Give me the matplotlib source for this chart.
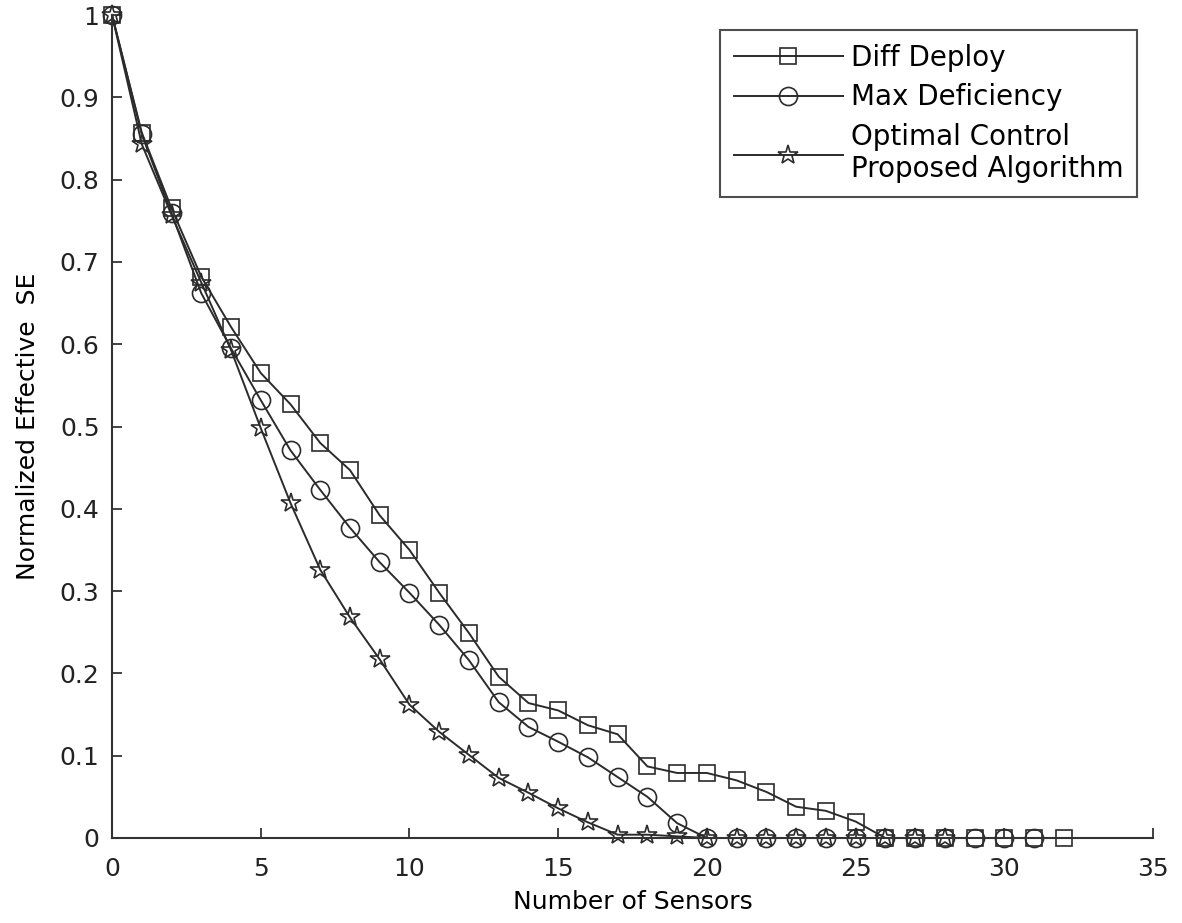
import matplotlib
matplotlib.use("Agg")
import matplotlib.pyplot as plt

plt.rcParams['font.family'] = ['DejaVu Sans']

diff_x = list(range(0, 33))
diff_y = [1.0, 0.857, 0.765, 0.682, 0.621, 0.565, 0.527, 0.480, 0.447, 0.392,
          0.350, 0.298, 0.249, 0.196, 0.164, 0.155, 0.137, 0.126, 0.087, 0.079,
          0.079, 0.070, 0.056, 0.038, 0.033, 0.020, 0, 0, 0, 0, 0, 0, 0]

maxdef_x = list(range(0, 32))
maxdef_y = [1.0, 0.855, 0.759, 0.662, 0.595, 0.532, 0.471, 0.423, 0.377, 0.335,
            0.298, 0.259, 0.216, 0.165, 0.135, 0.117, 0.098, 0.074, 0.050, 0.018,
            0, 0, 0, 0, 0, 0, 0, 0, 0, 0, 0, 0]

opt_x = list(range(0, 29))
opt_y = [1.0, 0.843, 0.757, 0.675, 0.593, 0.498, 0.407, 0.326, 0.268, 0.217,
         0.162, 0.129, 0.101, 0.073, 0.055, 0.036, 0.019, 0.004, 0.004, 0.002,
         0, 0, 0, 0, 0, 0, 0, 0, 0]

labels = ["Diff Deploy", "Max Deficiency", "Optimal Control\nProposed Algorithm"]
xticks = [0, 5, 10, 15, 20, 25, 30, 35]
yticks = [0, 0.1, 0.2, 0.3, 0.4, 0.5, 0.6, 0.7, 0.8, 0.9, 1.0]
ytick_labels = ["0", "0.1", "0.2", "0.3", "0.4", "0.5", "0.6", "0.7", "0.8", "0.9", "1"]

fig = plt.figure(figsize=(11.82, 9.23), dpi=100)
ax = fig.add_axes([0.0948, 0.0921, 0.8807, 0.8916])

lc = '#2b2b2b'
common = dict(color=lc, lw=1.4, mfc='none', mec=lc, mew=1.2, clip_on=False)
ax.plot(diff_x, diff_y, marker='s', ms=12, label=labels[0], **common)
ax.plot(maxdef_x, maxdef_y, marker='o', ms=13, label=labels[1], **common)
ax.plot(opt_x, opt_y, marker='*', ms=15, label=labels[2], **common)

ax.set_xlim(0, 35)
ax.set_ylim(0, 1)
ax.set_xticks(xticks)
ax.set_yticks(yticks)
ax.set_yticklabels(ytick_labels)
ax.spines['top'].set_visible(False)
ax.spines['right'].set_visible(False)
for s in ['left', 'bottom']:
    ax.spines[s].set_color('#333333')
    ax.spines[s].set_linewidth(1.5)
ax.tick_params(direction='in', length=7, width=1.2, labelsize=18, colors='#222222', pad=9)
ax.tick_params(axis='x', pad=14)
ax.set_xlabel("Number of Sensors", fontsize=18, labelpad=6)
ax.set_ylabel("Normalized Effective  SE", fontsize=18, labelpad=14)

leg = ax.legend(loc='upper right', bbox_to_anchor=(0.985, 0.982), fontsize=20, frameon=True,
                fancybox=False, edgecolor='#222222', handlelength=3.9, handletextpad=0.3,
                labelspacing=0.42, borderpad=0.5, borderaxespad=0)
leg.get_frame().set_linewidth(1.5)

fig.savefig("out.png", dpi=100)
